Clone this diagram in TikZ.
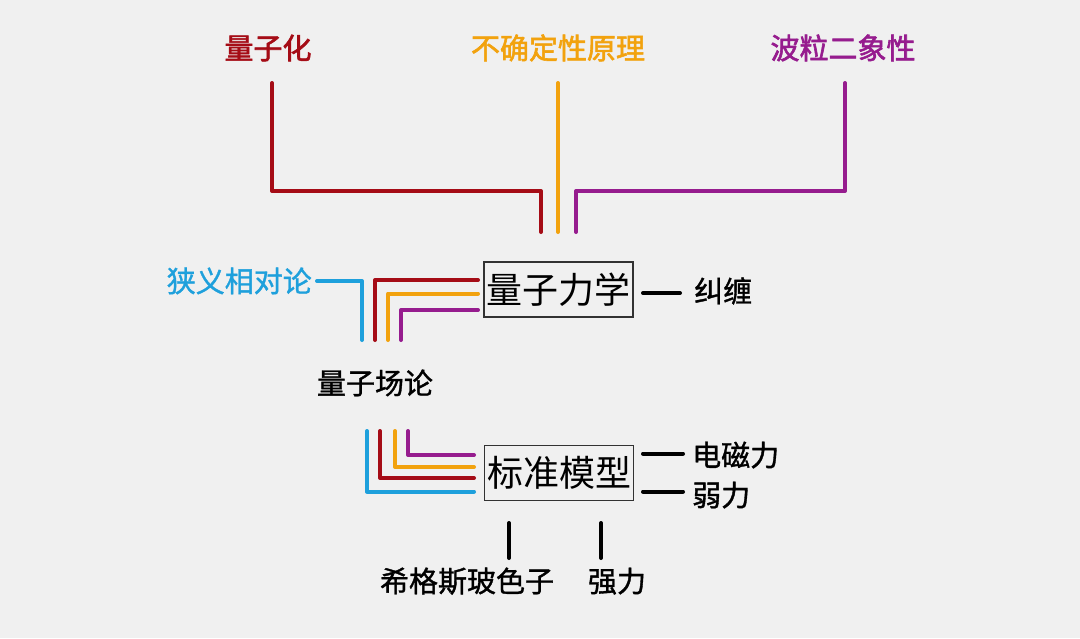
\documentclass[tikz,border=0pt]{standalone}
\usepackage{fontspec}
\newfontfamily\cjk{Noto Sans CJK SC}
\newfontfamily\cjkm{Noto Sans CJK SC}[FakeBold=1.2]
\newfontfamily\cjkb{Noto Sans CJK SC}[FakeBold=2]
\definecolor{bg}{RGB}{240,240,240}
\definecolor{qred}{RGB}{165,12,22}
\definecolor{qorange}{RGB}{242,162,14}
\definecolor{qpurple}{RGB}{150,28,142}
\definecolor{qblue}{RGB}{30,160,220}
\definecolor{boxgray}{RGB}{50,50,50}
\begin{document}
\begin{tikzpicture}[x=1pt,y=-1pt,
  lbl/.style={font=\cjkm\fontsize{29}{29}\selectfont, inner sep=0pt, text height=25.5pt, text depth=3.5pt},
  toplbl/.style={lbl, font=\cjkb\fontsize{29}{29}\selectfont},
  bigbox/.style={draw=boxgray, line width=1.8pt, font=\cjk\fontsize{36}{36}\selectfont, inner sep=0pt, text height=31.7pt, text depth=4.3pt, minimum width=149pt, minimum height=55pt},
  wire/.style={line width=4pt, line cap=round, line join=round},
]
\fill[bg] (0,0) rectangle (1080,638);
\useasboundingbox (0,0) rectangle (1080,638);

% top labels
\node[toplbl, text=qred] (qz) at (268,48) {量子化};
\node[toplbl, text=qorange] (bq) at (558,48) {不确定性原理};
\node[toplbl, text=qpurple] (bl) at (843,48) {波粒二象性};

% boxes
\node[bigbox] (qm) at (558.5,289.5) {量子力学};
\node[bigbox] (sm) at (559,473) {标准模型};

% other labels
\node[lbl, text=qblue, anchor=east] (sr) at (312,281) {狭义相对论};
\node[lbl, anchor=west] (jc) at (694,291) {纠缠};
\node[lbl] (qft) at (375,383) {量子场论};
\node[lbl, anchor=west] (em) at (692,455) {电磁力};
\node[lbl, anchor=west] (wk) at (692,495) {弱力};
\node[lbl] (hg) at (467,581) {希格斯玻色子};
\node[lbl] (st) at (617,581) {强力};

% top connectors
\coordinate (r1) at (272,83);
\coordinate (r2) at (541,232);
\coordinate (o1) at (558,83);
\coordinate (o2) at (558,232);
\coordinate (p1) at (845,83);
\coordinate (p2) at (576,232);
\draw[wire, qred] (r1) -- (272,191) -- (541,191) -- (r2);
\draw[wire, qorange] (o1) -- (o2);
\draw[wire, qpurple] (p1) -- (845,191) -- (576,191) -- (p2);

% left of quantum mechanics
\draw[wire, qblue] (sr.east) ++(5,0) -- (362,281) -- (362,340);
\draw[wire, qred] (478,280) -- (375,280) -- (375,340);
\draw[wire, qorange] (478,293.5) -- (388,293.5) -- (388,340);
\draw[wire, qpurple] (478,310) -- (401,310) -- (401,340);

% right of quantum mechanics
\draw[wire] (643,293) -- (680,293);

% left of standard model
\draw[wire, qblue] (367,431) -- (367,491.5) -- (474,491.5);
\draw[wire, qred] (380,431) -- (380,478) -- (474,478);
\draw[wire, qorange] (395,431) -- (395,467) -- (474,467);
\draw[wire, qpurple] (408,431) -- (408,455) -- (474,455);

% right of standard model
\draw[wire] (643,453.5) -- (683,453.5);
\draw[wire] (643,491.5) -- (683,491.5);

% below standard model
\draw[wire] (509,523) -- (509,558);
\draw[wire] (601,523) -- (601,558);
\end{tikzpicture}
\end{document}
